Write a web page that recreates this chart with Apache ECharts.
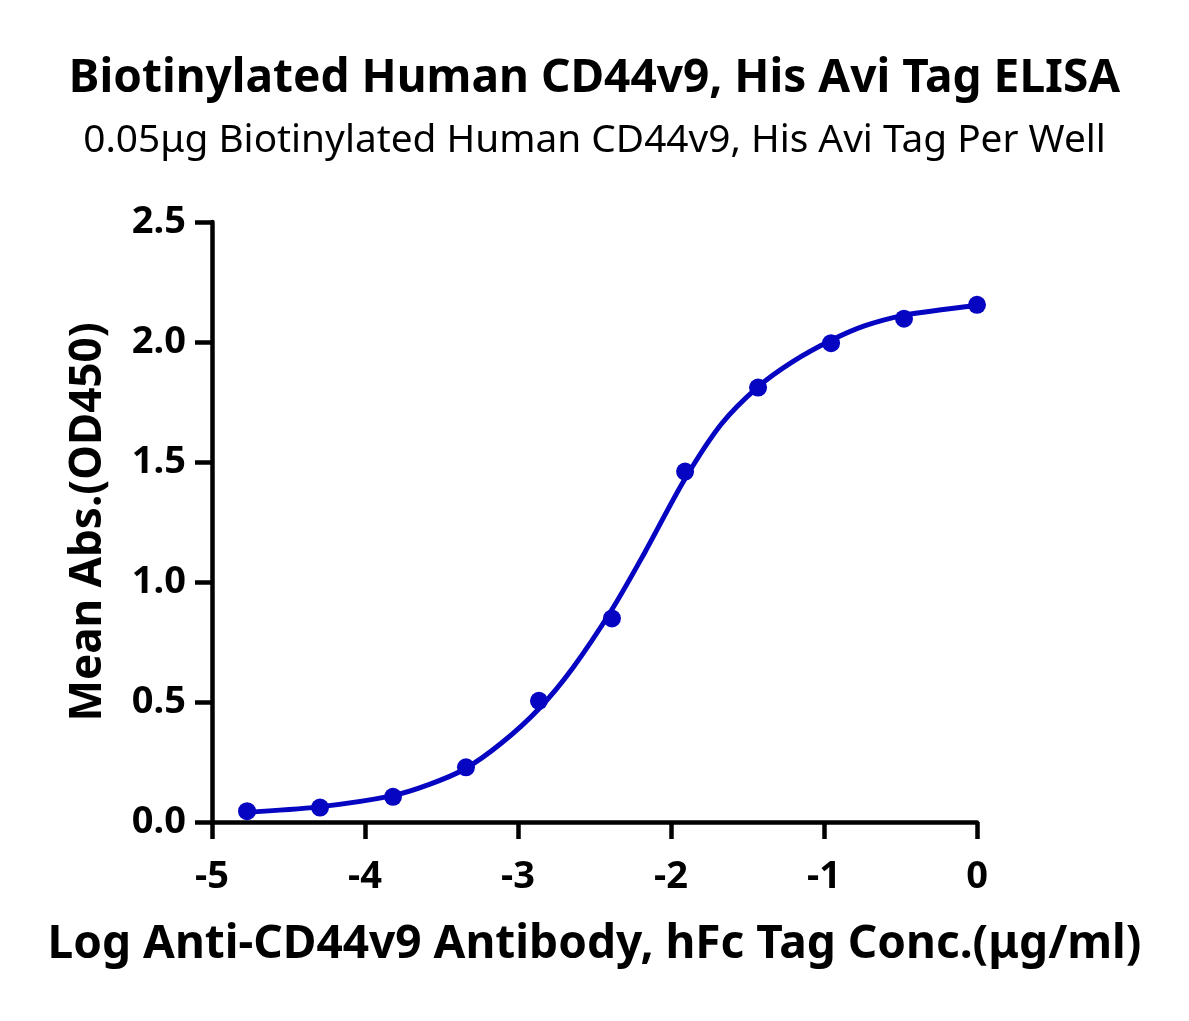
<!DOCTYPE html>
<html>
<head>
<meta charset="utf-8">
<script src="https://cdn.jsdelivr.net/npm/echarts@6/dist/echarts.min.js"></script>
<style>html,body{margin:0;padding:0;background:#fff}#c{width:1189px;height:1021px}</style>
</head>
<body>
<div id="c"></div>
<script>
const logConc = [-4.771, -4.294, -3.817, -3.340, -2.863, -2.386, -1.908, -1.431, -0.954, -0.477, 0];
const meanAbs = [0.045, 0.060, 0.105, 0.228, 0.505, 0.848, 1.460, 1.810, 1.995, 2.097, 2.155];
const curveX = [-4.783, -4.304, -3.826, -3.579, -3.348, -3.110, -2.866, -2.642, -2.391, -2.174, -1.913, -1.672, -1.431, -1.204, -0.953, -0.736, -0.475, -0.234, 0];
const curveY = [0.040, 0.063, 0.109, 0.157, 0.221, 0.328, 0.470, 0.642, 0.880, 1.120, 1.425, 1.657, 1.813, 1.918, 2.007, 2.067, 2.112, 2.134, 2.152];
const titleText = 'Biotinylated Human CD44v9, His Avi Tag ELISA';
const subtitleText = '0.05μg Biotinylated Human CD44v9, His Avi Tag Per Well';
const xName = 'Log Anti-CD44v9 Antibody, hFc Tag Conc.(μg/ml)';
const yName = 'Mean Abs.(OD450)';

const blue = '#0505c2';
const font = '"Noto Sans", "DejaVu Sans", sans-serif';
const chart = echarts.init(document.getElementById('c'));
chart.setOption({
  animation: false,
  backgroundColor: '#fff',
  title: [
    {text: titleText, left: 'center', top: 51, textStyle: {fontFamily: font, fontWeight: 'bold', fontSize: 46, color: '#000'}},
    {text: subtitleText, left: 'center', top: 116, textStyle: {fontFamily: font, fontWeight: 'normal', fontSize: 38.8, color: '#000'}}
  ],
  grid: {left: 212, right: 212, top: 222, bottom: 199, containLabel: false},
  xAxis: {
    type: 'value', min: -5, max: 0, interval: 1,
    name: xName, nameLocation: 'middle', nameGap: 100,
    nameTextStyle: {fontFamily: font, fontWeight: 'bold', fontSize: 46, color: '#000'},
    axisLine: {onZero: false, lineStyle: {color: '#000', width: 4.5}},
    axisTick: {length: 17, lineStyle: {color: '#000', width: 4.5}},
    axisLabel: {fontFamily: font, fontWeight: 'bold', fontSize: 38, color: '#000', margin: 36},
    splitLine: {show: false}
  },
  yAxis: {
    type: 'value', min: 0, max: 2.5, interval: 0.5,
    name: yName, nameLocation: 'middle', nameGap: 102,
    nameTextStyle: {fontFamily: font, fontWeight: 'bold', fontSize: 44, color: '#000'},
    axisLine: {show: true, onZero: false, lineStyle: {color: '#000', width: 4.5}},
    axisTick: {show: true, length: 17, lineStyle: {color: '#000', width: 4.5}},
    axisLabel: {fontFamily: font, fontWeight: 'bold', fontSize: 38, color: '#000', margin: 26,
      formatter: v => v.toFixed(1)},
    splitLine: {show: false}
  },
  series: [
    {type: 'line', data: curveX.map((x, i) => [x, curveY[i]]), smooth: 0.3, symbol: 'none',
      lineStyle: {color: blue, width: 5}, z: 2},
    {type: 'scatter', data: logConc.map((x, i) => [x, meanAbs[i]]), symbol: 'circle', symbolSize: 18,
      itemStyle: {color: blue, opacity: 1}, z: 3}
  ]
});
</script>
</body>
</html>
